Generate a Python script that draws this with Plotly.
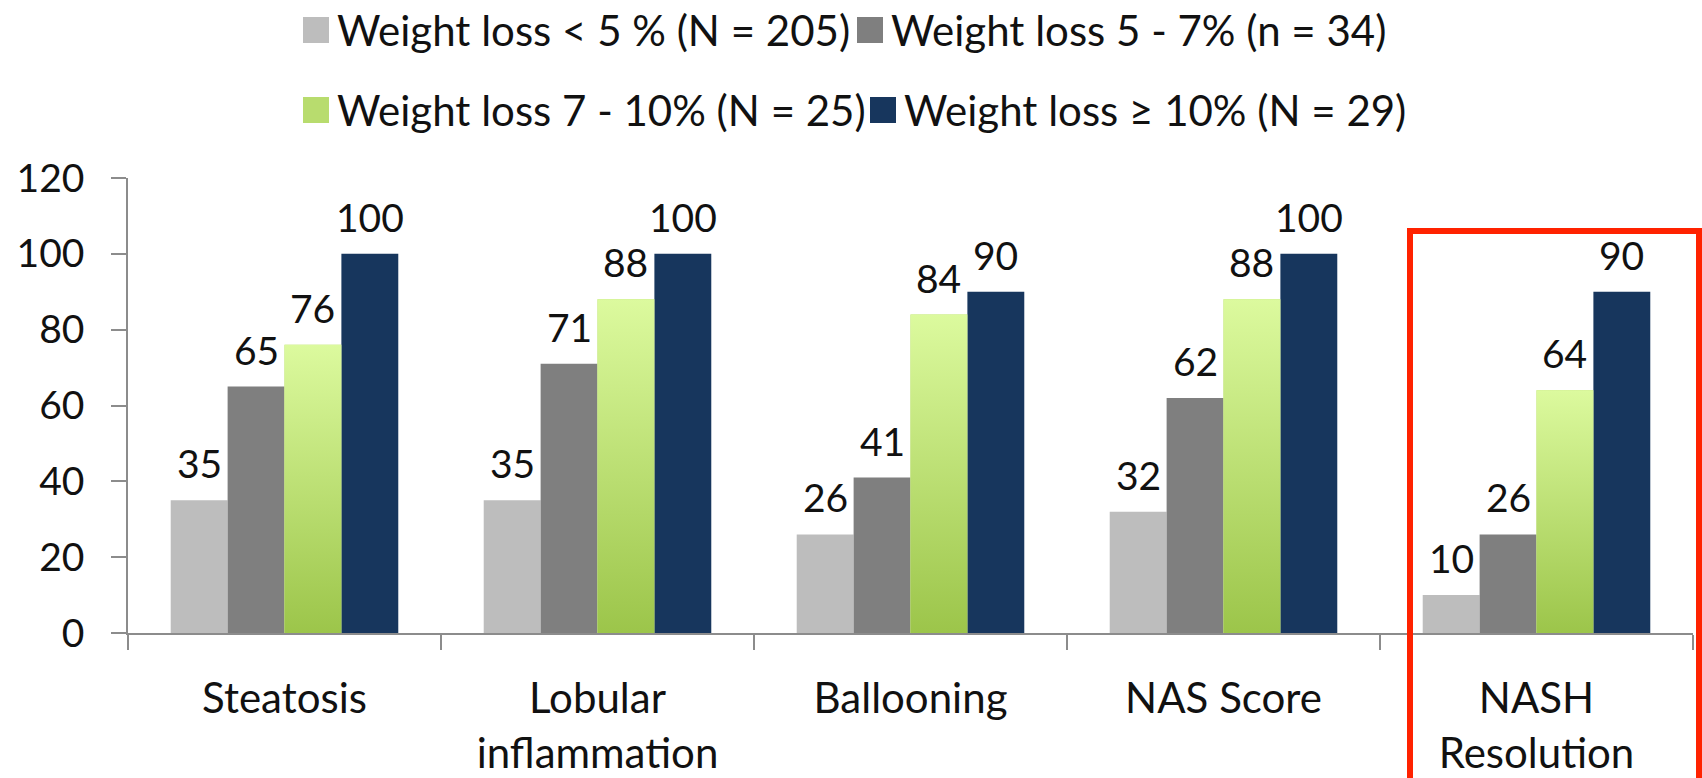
import plotly.graph_objects as go

# Histological improvement (%) by weight-loss group
categories = ["Steatosis", "Lobular<br>inflammation", "Ballooning", "NAS Score", "NASH<br>Resolution"]
series_names = [
    "Weight loss < 5 % (N = 205)",
    "Weight loss 5 - 7% (n = 34)",
    "Weight loss 7 - 10% (N = 25)",
    "Weight loss \u2265 10% (N = 29)",
]
wl_lt5 = [35, 35, 26, 32, 10]
wl_5_7 = [65, 71, 41, 62, 26]
wl_7_10 = [76, 88, 84, 88, 64]
wl_ge10 = [100, 100, 90, 100, 90]
y_ticks = [0, 20, 40, 60, 80, 100, 120]

series_values = [wl_lt5, wl_5_7, wl_7_10, wl_ge10]
colors = ["#bdbdbd", "#7f7f7f", "#b8dc6e", "#17365d"]
green_dark, green_light = "#9cc54a", "#dcfa9e"

W, H = 1702, 778
L, R, T, B = 128, 9, 178, 145
plot_w, plot_h = W - L - R, H - T - B
FONT = "Lato, 'Open Sans', sans-serif"
FS_TEXT = 42   # legend and category labels
FS_NUM = 39    # tick numbers and value labels
TXT = "#111"
BARGAP = 0.273
n_series = len(series_values)
bar_w = (1 - BARGAP) / n_series


def px_x(px):
    return (px - L) / plot_w


def px_y(py):
    return (H - B - py) / plot_h


fig = go.Figure()

for name, vals, col in zip(series_names, series_values, colors):
    fig.add_trace(go.Bar(
        x=categories, y=vals, name=name, marker_color=col,
        marker_line_width=0, showlegend=False, hoverinfo="skip",
    ))

# vertical gradient overlay on the 7-10% bars (third bar of each group)
green_offset = -(1 - BARGAP) / 2 + 2 * bar_w
for i, v in enumerate(wl_7_10):
    x0 = i + green_offset
    x1 = x0 + bar_w
    fig.add_trace(go.Scatter(
        x=[x0, x1, x1, x0, x0], y=[0, 0, v, v, 0], xaxis="x2",
        mode="none", fill="toself",
        fillgradient=dict(type="vertical", colorscale=[[0, green_dark], [1, green_light]],
                          start=0, stop=v),
        showlegend=False, hoverinfo="skip",
    ))

# value labels above each bar
annotations = []
for k, vals in enumerate(series_values):
    off = -(1 - BARGAP) / 2 + (k + 0.5) * bar_w
    for i, v in enumerate(vals):
        annotations.append(dict(
            x=i + off, y=v, xref="x2", yref="y", text=str(v), showarrow=False,
            yanchor="bottom", yshift=12, font=dict(family=FONT, size=FS_NUM, color=TXT),
        ))

# legend: two rows of swatch + label
legend_items = [
    (0, 303, 30), (1, 857, 30),
    (2, 303, 110), (3, 870, 110),
]
shapes = []
sw = 26
for idx, lx, ly in legend_items:
    shapes.append(dict(
        type="rect", xref="paper", yref="paper",
        x0=px_x(lx), x1=px_x(lx + sw), y0=px_y(ly + sw / 2), y1=px_y(ly - sw / 2),
        fillcolor=colors[idx], line_width=0,
    ))
    annotations.append(dict(
        x=px_x(lx + sw + 6), y=px_y(ly), xref="paper", yref="paper",
        text=series_names[idx], showarrow=False, xanchor="left", yanchor="middle",
        font=dict(family=FONT, size=FS_TEXT, color=TXT),
    ))

# highlight frame round the NASH Resolution group
shapes.append(dict(
    type="rect", xref="paper", yref="paper",
    x0=px_x(1410), x1=px_x(1699), y0=px_y(800), y1=px_y(231),
    line=dict(color="#ff2200", width=6), fillcolor="rgba(0,0,0,0)",
))

axis_col = "#8c8c8c"
fig.update_layout(
    width=W, height=H,
    margin=dict(l=L, r=R, t=T, b=B, pad=0, autoexpand=False),
    paper_bgcolor="white", plot_bgcolor="white",
    barmode="group", bargap=BARGAP, bargroupgap=0,
    font=dict(family=FONT, size=FS_TEXT, color=TXT),
    xaxis=dict(
        type="category", range=[-0.5, len(categories) - 0.5], automargin=False,
        showline=True, linecolor=axis_col, linewidth=1.5,
        ticks="outside", tickson="boundaries", ticklen=15, tickcolor=axis_col, tickwidth=1.5,
        ticklabelstandoff=28, showgrid=False, zeroline=False,
        tickfont=dict(family=FONT, size=FS_TEXT, color=TXT),
    ),
    xaxis2=dict(overlaying="x", range=[-0.5, len(categories) - 0.5], visible=False),
    yaxis=dict(
        range=[0, 120], tickvals=y_ticks, automargin=False,
        showline=True, linecolor=axis_col, linewidth=1.5,
        ticks="outside", ticklen=15, tickcolor=axis_col, tickwidth=1.5,
        ticklabelstandoff=19, showgrid=False, zeroline=False,
        tickfont=dict(family=FONT, size=FS_NUM, color=TXT),
    ),
    annotations=annotations,
    shapes=shapes,
)

fig.write_html("out.html")
